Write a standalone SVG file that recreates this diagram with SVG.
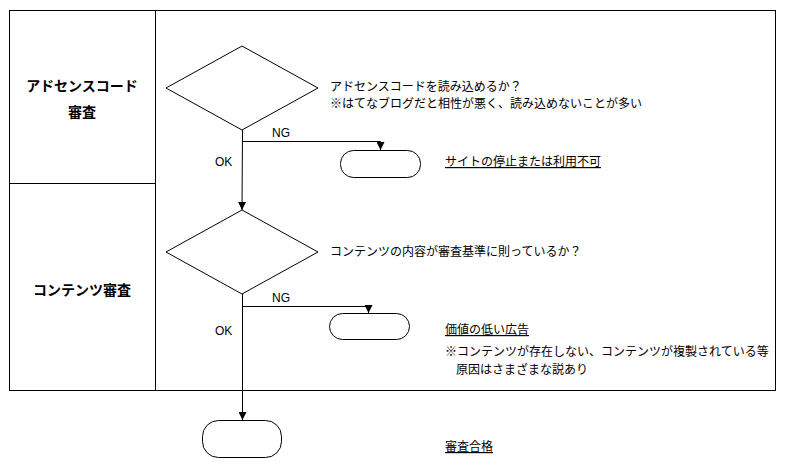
<svg xmlns="http://www.w3.org/2000/svg" width="793" height="467" viewBox="0 0 793 467">
<defs>
<marker id="ah" markerWidth="8" markerHeight="8" refX="8" refY="4" orient="auto" markerUnits="userSpaceOnUse" viewBox="0 0 8 8"><path d="M0,0 L8,4 L0,8 Z" fill="#000"/></marker>
</defs>
<style>
text{font-family:"Noto Sans CJK JP","Liberation Sans",sans-serif;font-size:12px;fill:#000}
.h{font-size:14px;font-weight:bold}
.l{font-family:"Liberation Sans","Noto Sans CJK JP",sans-serif}
.shape{fill:#fff;stroke:#000;stroke-width:1}
.c{fill:none;stroke:#000;stroke-width:1}
</style>
<rect width="793" height="467" fill="#fff"/>
<g id="lanes">
<rect x="9.5" y="10.5" width="766" height="380" fill="none" stroke="#000"/>
<line x1="155.5" y1="10.5" x2="155.5" y2="390.5" stroke="#000"/>
<line x1="9.5" y1="183.5" x2="155.5" y2="183.5" stroke="#000"/>
<text class="h" x="82" y="91" text-anchor="middle">アドセンスコード</text>
<text class="h" x="82" y="117" text-anchor="middle">審査</text>
<text class="h" x="82" y="295" text-anchor="middle">コンテンツ審査</text>
</g>
<g id="connectors">
<path class="c" d="M242.5,130 L242,210" marker-end="url(#ah)"/>
<path class="c" d="M242.5,141.5 H380.5 V150" marker-end="url(#ah)"/>
<path class="c" d="M242.5,294 V420" marker-end="url(#ah)"/>
<path class="c" d="M242.5,306.5 H368.5 V313" marker-end="url(#ah)"/>
<text class="l" x="272" y="137">NG</text>
<text class="l" x="215" y="166">OK</text>
<text class="l" x="272" y="302">NG</text>
<text class="l" x="215" y="335">OK</text>
</g>
<g id="d1">
<polygon class="shape" points="242,46 318,88 242,130 166,88"/>
<text x="330" y="91">アドセンスコードを読み込めるか？</text>
<text x="330" y="108">※はてなブログだと相性が悪く、読み込めないことが多い</text>
</g>
<g id="t1">
<rect class="shape" x="340.5" y="150.5" width="80" height="27" rx="13"/>
<text x="445" y="166" text-decoration="underline">サイトの停止または利用不可</text>
</g>
<g id="d2">
<polygon class="shape" points="242,210 318,252 242,294 166,252"/>
<text x="330" y="256">コンテンツの内容が審査基準に則っているか？</text>
</g>
<g id="t2">
<rect class="shape" x="329.5" y="313.5" width="80" height="26" rx="13"/>
<text x="445" y="334" text-decoration="underline">価値の低い広告</text>
<text x="445" y="356">※コンテンツが存在しない、コンテンツが複製されている等</text>
<text x="456" y="374">原因はさまざまな説あり</text>
</g>
<g id="t3">
<rect class="shape" x="202.5" y="420.5" width="79" height="37" rx="16"/>
<text x="445" y="451" text-decoration="underline">審査合格</text>
</g>
</svg>
